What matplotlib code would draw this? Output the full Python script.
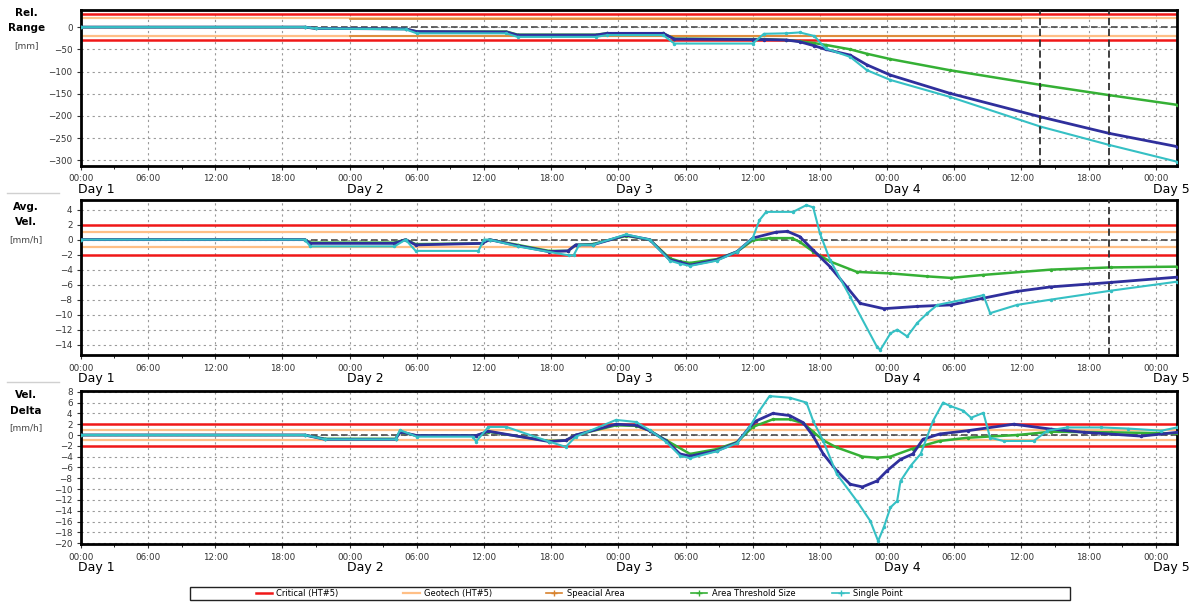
import matplotlib
matplotlib.use("Agg")
import matplotlib.pyplot as plt
from matplotlib.lines import Line2D
from matplotlib.patches import Rectangle

# time axis is hours since Day 1 00:00
day_names = ["Day 1", "Day 2", "Day 3", "Day 4", "Day 5"]
day_hours = [0, 24, 48, 72, 96]
x_end = 97.9
cursor_hours = [85.7, 91.8]

# ---- Rel. Range [mm]
t_range = [0, 20, 21, 29, 30, 38, 39, 46, 47, 52, 53, 60, 61, 63, 64.2, 65.5,
           66.5, 68.7, 70.2, 72.3, 77.6, 85.7, 91.8, 97.9]
range_blue = [0, 0, -3, -4, -10, -11, -18, -18, -14, -14, -27, -28, -28, -29, -33, -42,
              -50, -63, -85, -108, -149, -202, -239, -269]
range_green = [0, 0, -3, -4, -10, -10, -17, -17, -14, -14, -26, -27, -27, -29, -32, -36,
               -40, -50, -60, -72, -97, -130, -153, -175]
range_cyan = [0, 0, -3, -5, -14, -14, -22, -22, -18, -18, -37, -37, -15, -14, -12, -20,
              -48, -67, -97, -119, -157, -224, -265, -303]

# ---- Avg. Vel. [mm/h]
t_vel_blue = [0, 20, 20.5, 28, 29, 29.9, 35.8, 36.5, 39, 41.8, 43.5, 44.2, 45.7, 48.7, 50.8,
              52.6, 53.5, 54.4, 56.8, 58.6, 60, 62.1, 63.1, 64.2, 65.4, 66.9, 68.4, 69.6,
              71.7, 74.7, 77.7, 80.6, 83.6, 86.6, 92, 97.9]
vel_blue = [0, 0, -0.5, -0.5, 0, -0.7, -0.5, 0, -0.8, -1.6, -1.5, -0.7, -0.7, 0.6, 0,
            -2.7, -3.0, -3.4, -2.7, -1.6, 0.2, 1.0, 1.1, 0.4, -1.4, -3.6, -6.3, -8.5,
            -9.2, -8.9, -8.7, -7.8, -6.9, -6.3, -5.7, -5.0]
t_vel_green = [0, 20, 20.5, 28, 29, 29.9, 35.8, 36.5, 39, 41.8, 43.5, 44.2, 45.7, 48.7, 50.8,
               52.6, 53.5, 54.4, 56.8, 58.6, 60, 61.5, 63.5, 64.2, 65.4, 66.9, 69.3, 72.3,
               75.6, 77.7, 80.6, 86.6, 92, 97.9]
vel_green = [0, 0, -0.4, -0.4, 0, -0.6, -0.5, 0, -0.7, -1.5, -1.5, -0.7, -0.6, 0.5, 0,
             -2.5, -2.9, -3.1, -2.6, -1.6, -0.1, 0.2, 0.2, -0.3, -1.6, -2.9, -4.3, -4.5,
             -4.9, -5.1, -4.7, -4.0, -3.7, -3.6]
t_vel_cyan = [0, 20, 20.5, 28, 29, 29.9, 35.5, 36.0, 36.5, 39, 43.6, 44.0, 44.5, 45.7, 48.7,
              50.8, 52.6, 53.5, 54.4, 56.8, 58.6, 60, 60.6, 61.2, 63.6, 64.8, 65.4, 66.0,
              66.9, 68.7, 71.1, 71.4, 72.3, 72.9, 73.8, 74.7, 75.6, 76.5, 78.8, 80.6, 81.2,
              83.6, 86.6, 92, 97.9]
vel_cyan = [0, 0, -0.9, -0.9, 0, -1.5, -1.5, 0, 0, -0.9, -2.1, -2.1, -0.7, -0.7, 0.7,
            0, -2.8, -3.2, -3.5, -2.8, -1.6, 0.2, 2.6, 3.7, 3.7, 4.6, 4.3, 0.85,
            -2.7, -7.6, -14.3, -14.7, -12.5, -12.0, -12.9, -11.1, -9.8, -8.7, -8.0, -7.4, -9.8,
            -8.7, -8.0, -6.8, -5.6]

# ---- Vel. Delta [mm/h]
t_dlt_blue = [0, 20, 21.8, 28.1, 28.5, 30, 35.3, 36.4, 41.8, 43.3, 44.2, 47.8, 49.6, 50.8,
              52.3, 53.5, 54.4, 56.8, 58.6, 59.7, 60.3, 61.8, 63.3, 64.5, 65.4, 66.3, 67.5,
              68.7, 69.8, 71.1, 72, 73.2, 74.3, 75.2, 76.7, 79.2, 83.3, 86.6, 89.6, 94.7, 97.9]
dlt_blue = [0, 0, -0.8, -0.8, 0.6, -0.1, -0.1, 0.7, -1.2, -1.0, 0, 2.0, 1.8, 0.8,
            -1.1, -3.5, -3.9, -2.9, -1.4, 1.4, 2.6, 4.0, 3.6, 2.3, -0.2, -3.5, -6.6,
            -9.1, -9.6, -8.5, -6.6, -4.5, -3.5, -0.8, 0.2, 0.8, 2.0, 1.1, 0.5, -0.2, 0.5]
t_dlt_green = [0, 20, 21.8, 28.1, 28.5, 30, 35.3, 36.4, 41.8, 43.3, 44.2, 47.8, 49.6, 50.8,
               52.3, 54.4, 56.8, 58.6, 60, 61.8, 63.3, 64.5, 65.4, 66.3, 67.5, 69.8, 71.1,
               72.3, 74.3, 76.7, 79.2, 83.6, 86.6, 92, 97.9]
dlt_green = [0, 0, -0.7, -0.7, 0.5, -0.1, -0.1, 0.6, -1.1, -1.0, 0, 1.8, 1.7, 0.8,
             -1.0, -3.5, -2.6, -1.3, 1.5, 2.9, 2.9, 2.2, 0.6, -1.0, -2.3, -4.0, -4.2,
             -4.0, -2.5, -1.1, -0.5, 0, 0.6, 0.5, 0.3]
t_dlt_cyan = [0, 20, 21.8, 28.1, 28.5, 30, 35.0, 35.3, 36.4, 38, 41.8, 43.3, 44.2, 47.8, 49.6,
              50.8, 52.3, 53.5, 54.4, 56.8, 58.6, 59.7, 60.6, 61.5, 63.3, 64.8, 65.4, 66.3,
              67.5, 69.3, 70.5, 71.2, 71.7, 72.3, 72.9, 73.2, 74.1, 75, 76.1, 77, 77.6, 78.8,
              79.5, 80.6, 81.2, 82.4, 85.1, 86.3, 88.1, 91.1, 93.5, 96.5, 97.9]
dlt_cyan = [0, 0, -0.8, -0.8, 0.9, -0.3, -0.3, -1.2, 1.5, 1.5, -1.2, -2.2, -0.3, 2.8, 2.4,
            0.9, -1.3, -3.8, -4.3, -3.0, -1.5, 1.4, 4.5, 7.2, 6.9, 6.0, 2.6, -1.1,
            -7.2, -12.2, -15.9, -19.6, -17.1, -13.4, -12.2, -8.5, -5.7, -3.5, 2.6, 6.0, 5.4, 4.5,
            3.2, 4.1, -0.5, -1.1, -1.1, 0.8, 1.4, 1.4, 1.2, 0.8, 1.4]

# thresholds per panel: critical, geotech
critical = [30, 2, 2]
geotech = [20, 1, 1]
special_t = [24, 84]
special_v = [19, 19]

panel_titles = ["Rel.\nRange", "Avg.\nVel.", "Vel.\nDelta"]
panel_units = ["[mm]", "[mm/h]", "[mm/h]"]
ylims = [(-313, 38), (-15.4, 5.3), (-20.2, 8.2)]
yticks = [range(0, -301, -50), range(4, -15, -2), range(8, -21, -2)]

c_blue = "#2f2f9c"
c_green = "#35b035"
c_cyan = "#35c0c4"
c_red = "#f01818"
c_geo = "#ffbf86"
c_spec = "#d8832f"

fig = plt.figure(figsize=(11.89, 6.02), dpi=100)
positions = [[0.068, 0.724, 0.922, 0.259],
             [0.068, 0.410, 0.922, 0.258],
             [0.068, 0.096, 0.922, 0.255]]
series = [
    [(t_range, range_blue), (t_range, range_green), (t_range, range_cyan)],
    [(t_vel_blue, vel_blue), (t_vel_green, vel_green), (t_vel_cyan, vel_cyan)],
    [(t_dlt_blue, dlt_blue), (t_dlt_green, dlt_green), (t_dlt_cyan, dlt_cyan)],
]
title_y = [0.987, 0.665, 0.352]
sep_y = [None, 0.679, 0.365]

tick_hours = list(range(0, 97, 6))
tick_labels = ["%02d:00" % (h % 24) for h in tick_hours]

for i in range(3):
    ax = fig.add_axes(positions[i])
    ax.set_xlim(0, x_end)
    ax.set_ylim(*ylims[i])
    ax.set_yticks(list(yticks[i]))
    ax.set_xticks(tick_hours)
    ax.set_xticklabels(tick_labels)
    ax.set_xticks(range(0, 98, 3), minor=True)
    ax.grid(True, which="major", color="#9a9a9a", linestyle=(0, (2, 3)), linewidth=0.8)
    ax.tick_params(labelsize=6.3, colors="#333333", length=3, pad=3)
    ax.tick_params(which="minor", length=2)
    for s in ax.spines.values():
        s.set_linewidth(2)
        s.set_color("black")

    # thresholds
    for sign in (1, -1):
        ax.axhline(sign * geotech[i], color=c_geo, lw=1.6, zorder=2)
        ax.axhline(sign * critical[i], color=c_red, lw=1.8, zorder=2)
    if i == 0:
        ax.plot(special_t, special_v, color=c_spec, lw=1.2, zorder=2)
        ax.plot(special_t, [-v for v in special_v], color=c_spec, lw=1.2, zorder=2)
    ax.axhline(0, color="#4a4a4a", lw=1.2, linestyle=(0, (4, 2)), zorder=2)

    b, g, c = series[i]
    ax.plot(g[0], g[1], color=c_green, lw=1.8, marker=".", ms=3, zorder=3)
    ax.plot(b[0], b[1], color=c_blue, lw=2.0, marker=".", ms=3, zorder=4)
    ax.plot(c[0], c[1], color=c_cyan, lw=1.5, marker=".", ms=3, zorder=5)

    # cursor lines
    for h in (cursor_hours if i == 0 else cursor_hours[1:] if i == 1 else []):
        ax.axvline(h, color="#303030", lw=1.3, linestyle=(0, (4, 2)), zorder=6)

    for name, h in zip(day_names, day_hours):
        ax.annotate(name, xy=(h, 0), xycoords=("data", "axes fraction"),
                    xytext=(-2, -17), textcoords="offset points",
                    ha="left", va="center", fontsize=9, annotation_clip=False)

    fig.text(0.022, title_y[i], panel_titles[i], ha="center", va="top",
             fontsize=7.5, fontweight="bold", linespacing=1.7)
    fig.text(0.022, title_y[i] - 0.055, panel_units[i], ha="center", va="top",
             fontsize=6.5, color="#444444")
    if sep_y[i] is not None:
        fig.add_artist(Line2D([0.006, 0.05], [sep_y[i], sep_y[i]],
                              color="#d0d0d0", lw=1))

# legend: framed box with evenly spaced entries
fig.add_artist(Rectangle((0.16, 0.004), 0.74, 0.021, transform=fig.transFigure,
                         fill=False, edgecolor="#222222", lw=1))
legend_items = [
    ("Critical (HT#5)", Line2D([], [], color=c_red, lw=1.8)),
    ("Geotech (HT#5)", Line2D([], [], color=c_geo, lw=1.6)),
    ("Speacial Area", Line2D([], [], color=c_spec, lw=1.2, marker="+", ms=4)),
    ("Area Threshold Size", Line2D([], [], color=c_green, lw=1.2, marker="+", ms=4)),
    ("Single Point", Line2D([], [], color=c_cyan, lw=1.2, marker="+", ms=4)),
]
legend_x = [0.215, 0.339, 0.459, 0.581, 0.700]
for (label, handle), lx in zip(legend_items, legend_x):
    fig.legend(handles=[handle], labels=[label], loc="center left",
               bbox_to_anchor=(lx, 0.0145), frameon=False, fontsize=6,
               handlelength=2.0, handletextpad=0.5, borderpad=0, borderaxespad=0)

fig.savefig("out.png", dpi=100)
